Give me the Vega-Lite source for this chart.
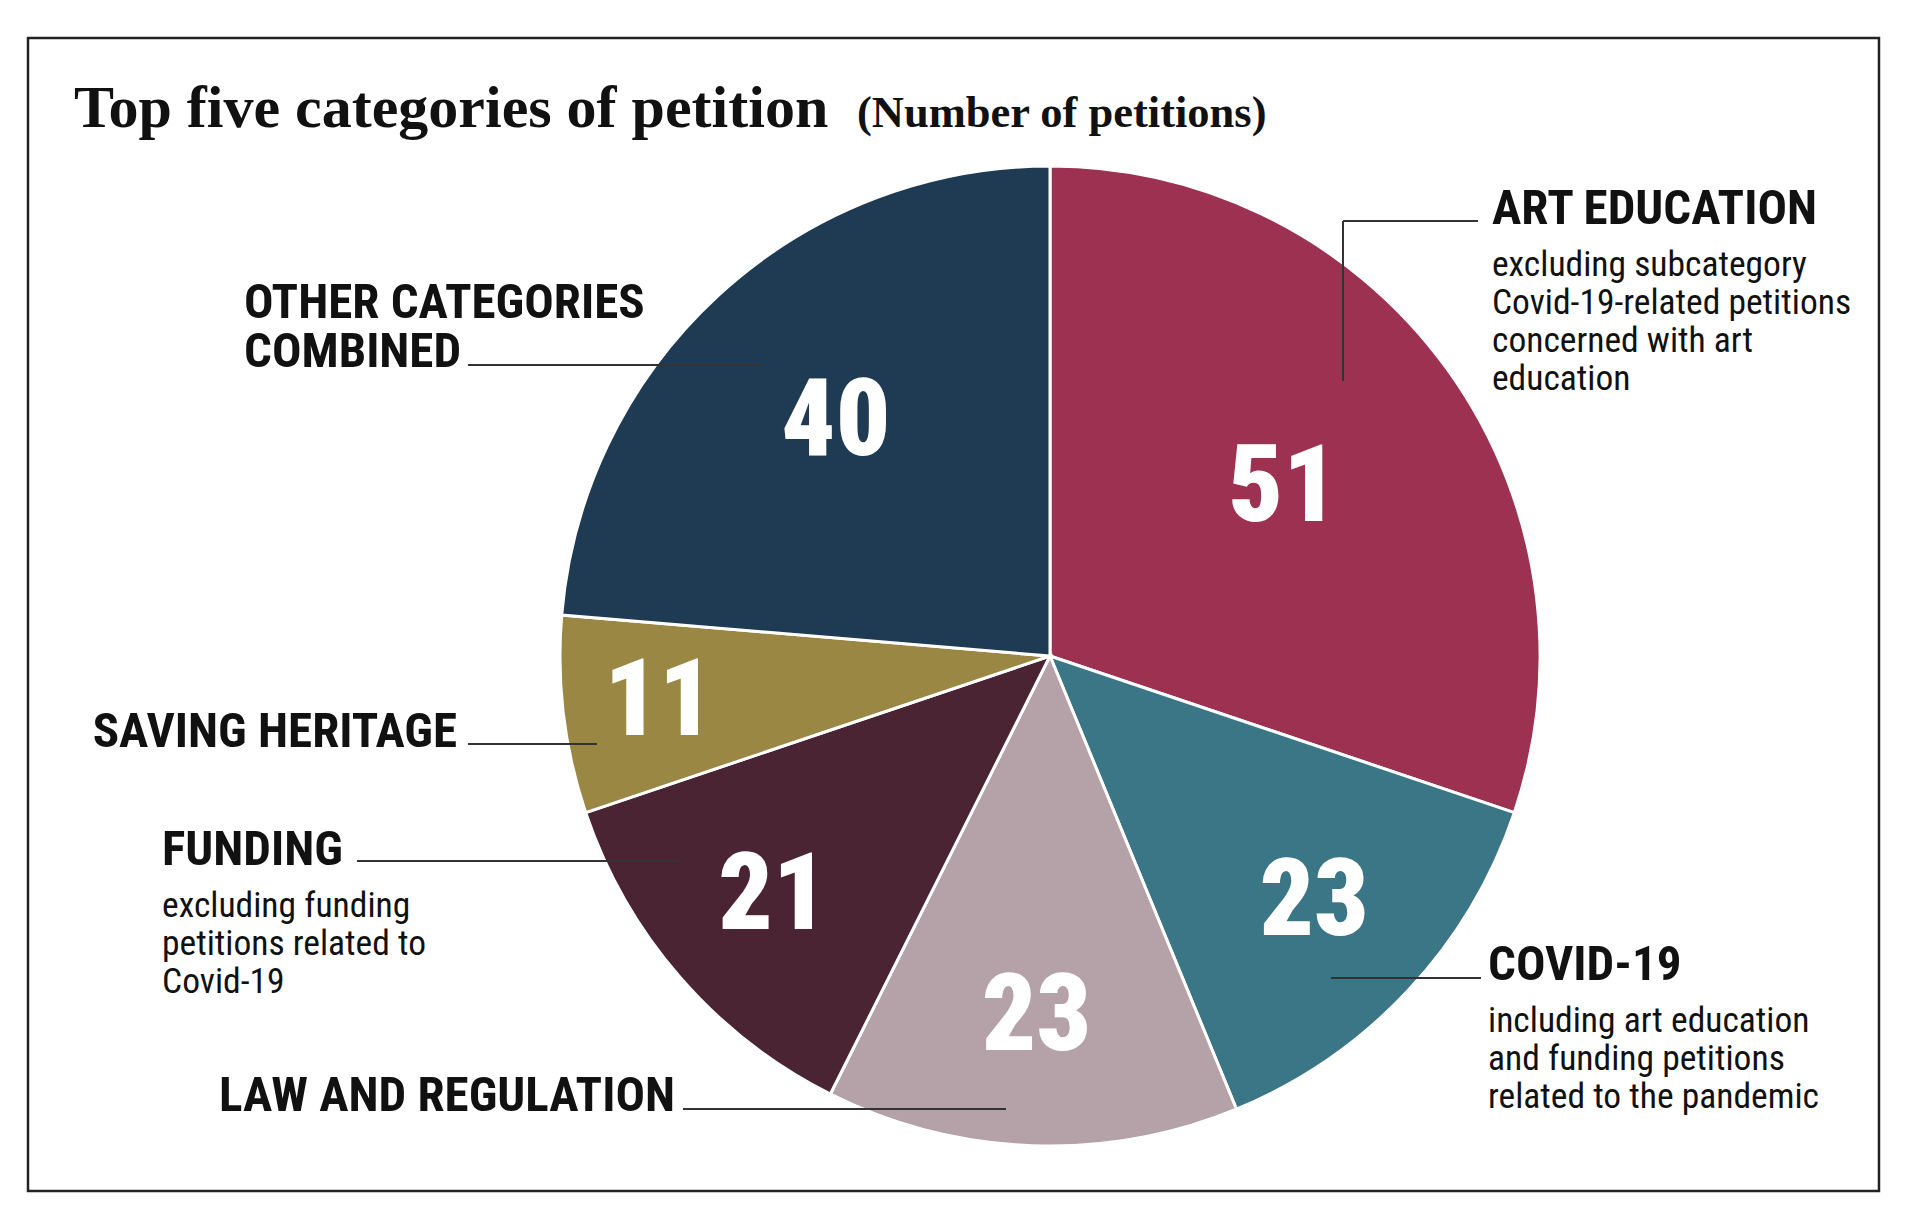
{
  "$schema": "https://vega.github.io/schema/vega-lite/v6.json",
  "width": 1920,
  "height": 1223,
  "autosize": {"type": "fit", "contains": "padding"},
  "padding": 0,
  "background": "white",
  "config": {"view": {"stroke": null}},
  "datasets": {
    "petitions": [
      {"category": "Art education", "value": 51},
      {"category": "Covid-19", "value": 23},
      {"category": "Law and regulation", "value": 23},
      {"category": "Funding", "value": 21},
      {"category": "Saving heritage", "value": 11},
      {"category": "Other categories combined", "value": 40}
    ]
  },
  "data": {"values": [{}]},
  "layer": [
    {
      "mark": {"type": "rect", "fill": null, "stroke": "#222222", "strokeWidth": 2.5},
      "encoding": {
        "x": {"datum": -2.0857, "type": "quantitative", "scale": {"domain": [-2.142857, 1.77551], "nice": false, "zero": false}, "axis": null},
        "x2": {"datum": 1.6918},
        "y": {"datum": 1.2612, "type": "quantitative", "scale": {"domain": [-1.157143, 1.338776], "nice": false, "zero": false}, "axis": null},
        "y2": {"datum": -1.0918}
      }
    },
    {
      "data": {"name": "petitions"},
      "transform": [{"window": [{"op": "row_number", "as": "idx"}]}],
      "layer": [
        {
          "mark": {"type": "arc", "outerRadius": 490, "stroke": "white", "strokeWidth": 3},
          "encoding": {
            "x": {"datum": 0, "type": "quantitative", "scale": {"domain": [-2.142857, 1.77551], "nice": false, "zero": false}, "axis": null},
            "y": {"datum": 0, "type": "quantitative", "scale": {"domain": [-1.157143, 1.338776], "nice": false, "zero": false}, "axis": null},
            "theta": {"field": "value", "type": "quantitative", "stack": true},
            "order": {"field": "idx", "type": "quantitative"},
            "color": {
              "field": "category",
              "type": "nominal",
              "scale": {
                "domain": ["Art education", "Covid-19", "Law and regulation", "Funding", "Saving heritage", "Other categories combined"],
                "range": ["#9c3151", "#3b7687", "#b4a2a8", "#4b2434", "#9a8743", "#1e3b53"]
              },
              "legend": null
            }
          }
        },
        {
          "mark": {"type": "text", "font": "Roboto Condensed, DejaVu Sans Condensed, sans-serif", "fontWeight": 900, "fontSize": 107, "fill": "white", "align": "center", "baseline": "middle"},
          "encoding": {
            "x": {"datum": 0, "type": "quantitative", "scale": {"domain": [-2.142857, 1.77551], "nice": false, "zero": false}, "axis": null},
            "y": {"datum": 0, "type": "quantitative", "scale": {"domain": [-1.157143, 1.338776], "nice": false, "zero": false}, "axis": null},
            "theta": {"field": "value", "type": "quantitative", "stack": true},
            "order": {"field": "idx", "type": "quantitative"},
            "radius": {"field": "value", "type": "quantitative", "scale": {"type": "linear", "domain": [11, 51], "range": [394, 287], "zero": false}},
            "text": {"field": "value", "type": "quantitative"}
          }
        }
      ]
    },
    {
      "mark": {"type": "text", "font": "Liberation Serif, DejaVu Serif, serif", "fontWeight": "bold", "fontSize": 60, "align": "left", "baseline": "alphabetic", "fill": "#111111"},
      "encoding": {
        "x": {"datum": -1.992, "type": "quantitative", "scale": {"domain": [-2.142857, 1.77551], "nice": false, "zero": false}, "axis": null},
        "y": {"datum": 1.08, "type": "quantitative", "scale": {"domain": [-1.157143, 1.338776], "nice": false, "zero": false}, "axis": null},
        "text": {"value": "Top five categories of petition"}
      }
    },
    {
      "mark": {"type": "text", "font": "Liberation Serif, DejaVu Serif, serif", "fontWeight": "bold", "fontSize": 44.5, "align": "left", "baseline": "alphabetic", "fill": "#111111"},
      "encoding": {
        "x": {"datum": -0.394, "type": "quantitative", "scale": {"domain": [-2.142857, 1.77551], "nice": false, "zero": false}, "axis": null},
        "y": {"datum": 1.08, "type": "quantitative", "scale": {"domain": [-1.157143, 1.338776], "nice": false, "zero": false}, "axis": null},
        "text": {"value": "(Number of petitions)"}
      }
    },
    {
      "mark": {"type": "text", "font": "Roboto Condensed, DejaVu Sans Condensed, sans-serif", "fontWeight": "bold", "fontSize": 49, "align": "left", "baseline": "alphabetic", "fill": "#111111"},
      "encoding": {
        "x": {"datum": 0.902, "type": "quantitative", "scale": {"domain": [-2.142857, 1.77551], "nice": false, "zero": false}, "axis": null},
        "y": {"datum": 0.8816, "type": "quantitative", "scale": {"domain": [-1.157143, 1.338776], "nice": false, "zero": false}, "axis": null},
        "text": {"value": "ART EDUCATION"}
      }
    },
    {
      "mark": {"type": "text", "font": "Roboto Condensed, DejaVu Sans Condensed, sans-serif", "fontSize": 35.5, "lineHeight": 38, "align": "left", "baseline": "alphabetic", "fill": "#111111"},
      "encoding": {
        "x": {"datum": 0.902, "type": "quantitative", "scale": {"domain": [-2.142857, 1.77551], "nice": false, "zero": false}, "axis": null},
        "y": {"datum": 0.7755, "type": "quantitative", "scale": {"domain": [-1.157143, 1.338776], "nice": false, "zero": false}, "axis": null},
        "text": {"value": ["excluding subcategory", "Covid-19-related petitions", "concerned with art", "education"]}
      }
    },
    {
      "mark": {"type": "text", "font": "Roboto Condensed, DejaVu Sans Condensed, sans-serif", "fontWeight": "bold", "fontSize": 49, "align": "left", "baseline": "alphabetic", "fill": "#111111"},
      "encoding": {
        "x": {"datum": 0.8939, "type": "quantitative", "scale": {"domain": [-2.142857, 1.77551], "nice": false, "zero": false}, "axis": null},
        "y": {"datum": -0.6612, "type": "quantitative", "scale": {"domain": [-1.157143, 1.338776], "nice": false, "zero": false}, "axis": null},
        "text": {"value": "COVID-19"}
      }
    },
    {
      "mark": {"type": "text", "font": "Roboto Condensed, DejaVu Sans Condensed, sans-serif", "fontSize": 35.5, "lineHeight": 38, "align": "left", "baseline": "alphabetic", "fill": "#111111"},
      "encoding": {
        "x": {"datum": 0.8939, "type": "quantitative", "scale": {"domain": [-2.142857, 1.77551], "nice": false, "zero": false}, "axis": null},
        "y": {"datum": -0.7673, "type": "quantitative", "scale": {"domain": [-1.157143, 1.338776], "nice": false, "zero": false}, "axis": null},
        "text": {"value": ["including art education", "and funding petitions", "related to the pandemic"]}
      }
    },
    {
      "mark": {"type": "text", "font": "Roboto Condensed, DejaVu Sans Condensed, sans-serif", "fontWeight": "bold", "fontSize": 49, "align": "right", "baseline": "alphabetic", "fill": "#111111"},
      "encoding": {
        "x": {"datum": -0.7653, "type": "quantitative", "scale": {"domain": [-2.142857, 1.77551], "nice": false, "zero": false}, "axis": null},
        "y": {"datum": -0.9286, "type": "quantitative", "scale": {"domain": [-1.157143, 1.338776], "nice": false, "zero": false}, "axis": null},
        "text": {"value": "LAW AND REGULATION"}
      }
    },
    {
      "mark": {"type": "text", "font": "Roboto Condensed, DejaVu Sans Condensed, sans-serif", "fontWeight": "bold", "fontSize": 49, "align": "left", "baseline": "alphabetic", "fill": "#111111"},
      "encoding": {
        "x": {"datum": -1.8122, "type": "quantitative", "scale": {"domain": [-2.142857, 1.77551], "nice": false, "zero": false}, "axis": null},
        "y": {"datum": -0.4265, "type": "quantitative", "scale": {"domain": [-1.157143, 1.338776], "nice": false, "zero": false}, "axis": null},
        "text": {"value": "FUNDING"}
      }
    },
    {
      "mark": {"type": "text", "font": "Roboto Condensed, DejaVu Sans Condensed, sans-serif", "fontSize": 35.5, "lineHeight": 38, "align": "left", "baseline": "alphabetic", "fill": "#111111"},
      "encoding": {
        "x": {"datum": -1.8122, "type": "quantitative", "scale": {"domain": [-2.142857, 1.77551], "nice": false, "zero": false}, "axis": null},
        "y": {"datum": -0.5327, "type": "quantitative", "scale": {"domain": [-1.157143, 1.338776], "nice": false, "zero": false}, "axis": null},
        "text": {"value": ["excluding funding", "petitions related to", "Covid-19"]}
      }
    },
    {
      "mark": {"type": "text", "font": "Roboto Condensed, DejaVu Sans Condensed, sans-serif", "fontWeight": "bold", "fontSize": 49, "align": "right", "baseline": "alphabetic", "fill": "#111111"},
      "encoding": {
        "x": {"datum": -1.2102, "type": "quantitative", "scale": {"domain": [-2.142857, 1.77551], "nice": false, "zero": false}, "axis": null},
        "y": {"datum": -0.1857, "type": "quantitative", "scale": {"domain": [-1.157143, 1.338776], "nice": false, "zero": false}, "axis": null},
        "text": {"value": "SAVING HERITAGE"}
      }
    },
    {
      "mark": {"type": "text", "font": "Roboto Condensed, DejaVu Sans Condensed, sans-serif", "fontWeight": "bold", "fontSize": 49, "lineHeight": 49, "align": "left", "baseline": "alphabetic", "fill": "#111111"},
      "encoding": {
        "x": {"datum": -1.6449, "type": "quantitative", "scale": {"domain": [-2.142857, 1.77551], "nice": false, "zero": false}, "axis": null},
        "y": {"datum": 0.6898, "type": "quantitative", "scale": {"domain": [-1.157143, 1.338776], "nice": false, "zero": false}, "axis": null},
        "text": {"value": ["OTHER CATEGORIES", "COMBINED"]}
      }
    },
    {
      "mark": {"type": "rule", "stroke": "#333333", "strokeWidth": 2},
      "encoding": {
        "x": {"datum": 0.598, "type": "quantitative", "scale": {"domain": [-2.142857, 1.77551], "nice": false, "zero": false}, "axis": null},
        "x2": {"datum": 0.8735},
        "y": {"datum": 0.8878, "type": "quantitative", "scale": {"domain": [-1.157143, 1.338776], "nice": false, "zero": false}, "axis": null}
      }
    },
    {
      "mark": {"type": "rule", "stroke": "#333333", "strokeWidth": 2},
      "encoding": {
        "x": {"datum": 0.598, "type": "quantitative", "scale": {"domain": [-2.142857, 1.77551], "nice": false, "zero": false}, "axis": null},
        "y": {"datum": 0.8878, "type": "quantitative", "scale": {"domain": [-1.157143, 1.338776], "nice": false, "zero": false}, "axis": null},
        "y2": {"datum": 0.5612}
      }
    },
    {
      "mark": {"type": "rule", "stroke": "#333333", "strokeWidth": 2},
      "encoding": {
        "x": {"datum": 0.5735, "type": "quantitative", "scale": {"domain": [-2.142857, 1.77551], "nice": false, "zero": false}, "axis": null},
        "x2": {"datum": 0.8796},
        "y": {"datum": -0.6571, "type": "quantitative", "scale": {"domain": [-1.157143, 1.338776], "nice": false, "zero": false}, "axis": null}
      }
    },
    {
      "mark": {"type": "rule", "stroke": "#333333", "strokeWidth": 2},
      "encoding": {
        "x": {"datum": -0.749, "type": "quantitative", "scale": {"domain": [-2.142857, 1.77551], "nice": false, "zero": false}, "axis": null},
        "x2": {"datum": -0.0898},
        "y": {"datum": -0.9245, "type": "quantitative", "scale": {"domain": [-1.157143, 1.338776], "nice": false, "zero": false}, "axis": null}
      }
    },
    {
      "mark": {"type": "rule", "stroke": "#333333", "strokeWidth": 2},
      "encoding": {
        "x": {"datum": -1.4143, "type": "quantitative", "scale": {"domain": [-2.142857, 1.77551], "nice": false, "zero": false}, "axis": null},
        "x2": {"datum": -0.7531},
        "y": {"datum": -0.4184, "type": "quantitative", "scale": {"domain": [-1.157143, 1.338776], "nice": false, "zero": false}, "axis": null}
      }
    },
    {
      "mark": {"type": "rule", "stroke": "#333333", "strokeWidth": 2},
      "encoding": {
        "x": {"datum": -1.1878, "type": "quantitative", "scale": {"domain": [-2.142857, 1.77551], "nice": false, "zero": false}, "axis": null},
        "x2": {"datum": -0.9245},
        "y": {"datum": -0.1796, "type": "quantitative", "scale": {"domain": [-1.157143, 1.338776], "nice": false, "zero": false}, "axis": null}
      }
    },
    {
      "mark": {"type": "rule", "stroke": "#333333", "strokeWidth": 2},
      "encoding": {
        "x": {"datum": -1.1878, "type": "quantitative", "scale": {"domain": [-2.142857, 1.77551], "nice": false, "zero": false}, "axis": null},
        "x2": {"datum": -0.5878},
        "y": {"datum": 0.5939, "type": "quantitative", "scale": {"domain": [-1.157143, 1.338776], "nice": false, "zero": false}, "axis": null}
      }
    }
  ]
}
